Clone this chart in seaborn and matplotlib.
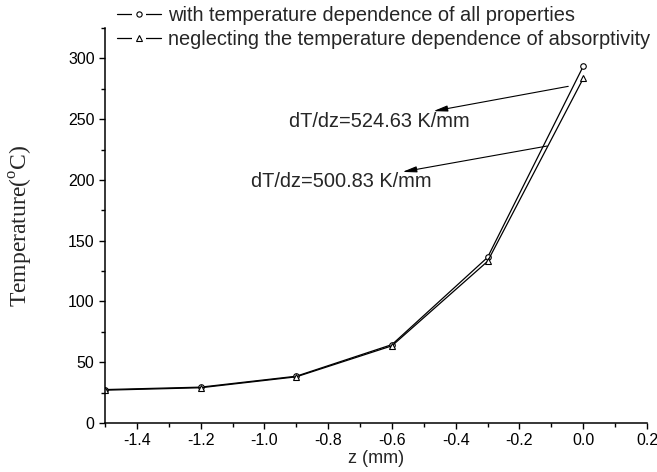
import numpy as np
import pandas as pd
import matplotlib
matplotlib.use("Agg")
import matplotlib.pyplot as plt
import seaborn as sns
from matplotlib.ticker import MultipleLocator
from matplotlib.lines import Line2D
from matplotlib.legend_handler import HandlerTuple

# ---- data ----
z_mm = [-1.5, -1.2, -0.9, -0.6, -0.3, 0.0]
temp_all = [27.5, 29.5, 38.5, 64.5, 136.3, 293.5]
temp_noabs = [27.0, 29.0, 38.0, 63.5, 133.0, 283.5]
series_names = ["with temperature dependence of all properties",
                "neglecting the temperature dependence of absorptivity"]
grad_labels = ["dT/dz=524.63 K/mm", "dT/dz=500.83 K/mm"]

df = pd.DataFrame({
    "z": z_mm * 2,
    "T": temp_all + temp_noabs,
    "series": [series_names[0]] * len(z_mm) + [series_names[1]] * len(z_mm),
})

sns.set_style("ticks")
plt.rcParams['font.family'] = ['Liberation Sans', 'DejaVu Sans']
plt.rcParams['mathtext.fontset'] = 'custom'
plt.rcParams['mathtext.rm'] = 'Liberation Serif'

fig = plt.figure(figsize=(6.57, 4.72), dpi=100)
ax = fig.add_axes([105/657, 1 - 423/472, 542/657, 395/472])

sns.lineplot(data=df, x="z", y="T", hue="series", style="series",
             markers=["o", "^"], dashes=False,
             palette=["black", "black"], ax=ax, legend=False,
             linewidth=0.9, markersize=4, markerfacecolor="white",
             markeredgecolor="black", markeredgewidth=0.8)

ax.set_xlim(-1.5, 0.2)
ax.set_ylim(0, 325)
ax.xaxis.set_minor_locator(MultipleLocator(0.1))
ax.yaxis.set_minor_locator(MultipleLocator(25))
ax.set_xticks([-1.4, -1.2, -1.0, -0.8, -0.6, -0.4, -0.2, 0.0, 0.2])
ax.set_xticklabels(["-1.4", "-1.2", "-1.0", "-0.8", "-0.6", "-0.4", "-0.2", "0.0", "0.2"])
ax.set_yticks([0, 50, 100, 150, 200, 250, 300])

for s in ["top", "right"]:
    ax.spines[s].set_visible(False)
for s in ["left", "bottom"]:
    ax.spines[s].set_linewidth(1.1)
    ax.spines[s].set_color("black")

ax.tick_params(which="major", length=4.5, width=1.0, direction="out",
               labelsize=11.5, pad=3, colors="black")
ax.tick_params(which="minor", length=3, width=1.0, direction="out", colors="black")

ax.set_xlabel("z (mm)", fontsize=13, va="top")
ax.xaxis.set_label_coords(0.5, -0.068)
ax.set_ylabel(r"Temperature($^{\mathrm{o}}$C)", fontsize=17,
              family=["Liberation Serif", "DejaVu Serif"])
ax.yaxis.set_label_coords(-0.13, 0.5)

# annotations
arrow_style = dict(arrowstyle="-|>,head_length=0.7,head_width=0.15",
                   color="black", lw=0.8, shrinkA=0, shrinkB=0,
                   mutation_scale=12)
ax.annotate("", xy=(-0.470, 256.6), xytext=(-0.047, 277), arrowprops=arrow_style)
ax.annotate("", xy=(-0.567, 206.6), xytext=(-0.113, 227.9), arrowprops=arrow_style)
ax.text(-0.922, 243.4, grad_labels[0], fontsize=14.4, ha="left", va="baseline")
ax.text(-1.041, 194.3, grad_labels[1], fontsize=14.4, ha="left", va="baseline")

# legend (Origin style: line broken around marker)
handles = []
for m in ["o", "^"]:
    ln = Line2D([], [], color="black", lw=0.9)
    gap = Line2D([], [], linestyle="none", marker="s", markersize=10,
                 markerfacecolor="white", markeredgecolor="white",
                 markeredgewidth=0)
    mk = Line2D([], [], linestyle="none", marker=m, markersize=3.8,
                markerfacecolor="white", markeredgecolor="black",
                markeredgewidth=0.8)
    handles.append((ln, gap, mk))
fig.legend(handles, series_names, loc="upper left",
           bbox_to_anchor=(117/657, 1 - 6/472), frameon=False,
           fontsize=14.4, handlelength=2.2, handletextpad=0.35,
           labelspacing=0.25, borderpad=0, borderaxespad=0, numpoints=1,
           handler_map={tuple: HandlerTuple(ndivide=1, pad=0)})

fig.savefig("out.png", dpi=100)
